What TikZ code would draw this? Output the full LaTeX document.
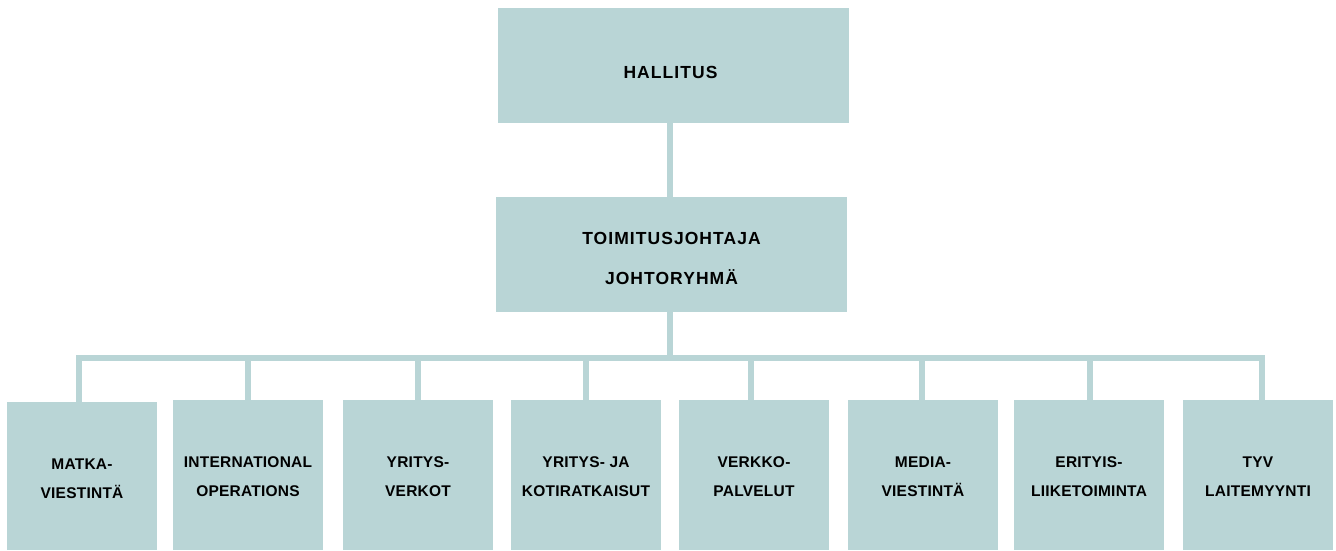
\documentclass[tikz,border=0pt]{standalone}
\usepackage{fontspec}
\newfontfamily\topfont[LetterSpace=6]{Liberation Sans}
\newfontfamily\botfont[LetterSpace=1.5]{Liberation Sans}
\definecolor{boxc}{RGB}{185,213,214}
\begin{document}
\begin{tikzpicture}[x=1pt,y=1pt,
  topbox/.style={fill=boxc, draw=none, inner sep=0pt, minimum width=351pt, minimum height=115pt},
  toptext/.style={inner sep=0pt, align=center, font=\topfont\bfseries\fontsize{17.5}{40}\selectfont},
  botbox/.style={fill=boxc, draw=none, inner sep=0pt, minimum width=150pt, minimum height=150pt},
  bottext/.style={inner sep=0pt, align=center, yshift=-1.5pt, font=\botfont\bfseries\fontsize{15.5}{29}\selectfont},
  conn/.style={draw=boxc, line width=6pt}]
\useasboundingbox (0,0) rectangle (1336,-550);
\node[topbox, label={[toptext, xshift=-3pt, yshift=-7pt]center:HALLITUS}] (h) at (673.5,-65) {};
\node[topbox, label={[toptext, yshift=-3.5pt]center:TOIMITUSJOHTAJA\\JOHTORYHMÄ}] (t) at (671.5,-254.5) {};
\coordinate (bar) at (670,-358);
\node[botbox, minimum height=148pt, label={[bottext, yshift=-1pt]center:MATKA-\\VIESTINTÄ}] (b1) at (82,-476) {};
\node[botbox, label={[bottext]center:INTERNATIONAL\\OPERATIONS}] (b2) at (248,-475) {};
\node[botbox, label={[bottext]center:YRITYS-\\VERKOT}] (b3) at (418,-475) {};
\node[botbox, label={[bottext]center:YRITYS- JA\\KOTIRATKAISUT}] (b4) at (586,-475) {};
\node[botbox, label={[bottext]center:VERKKO-\\PALVELUT}] (b5) at (754,-475) {};
\node[botbox, label={[bottext]center:MEDIA-\\VIESTINTÄ}] (b6) at (923,-475) {};
\node[botbox, label={[bottext]center:ERITYIS-\\LIIKETOIMINTA}] (b7) at (1089,-475) {};
\node[botbox, label={[bottext]center:TYV\\LAITEMYYNTI}] (b8) at (1258,-475) {};
\draw[conn] (h.south -| bar) -- (t.north -| bar);
\draw[conn] (t.south -| bar) -- (bar);
\draw[conn] ([xshift=-3pt]b1.north) -- ([xshift=-3pt]b1.north |- bar) -- ([xshift=4pt]b8.north |- bar) -- ([xshift=4pt]b8.north);
\foreach \b/\dx in {b2/0,b3/0,b4/0,b5/-3,b6/-1,b7/1}{
  \draw[conn] ([xshift=\dx pt]\b.north) -- ([xshift=\dx pt]\b.north |- bar);
}
\end{tikzpicture}
\end{document}
